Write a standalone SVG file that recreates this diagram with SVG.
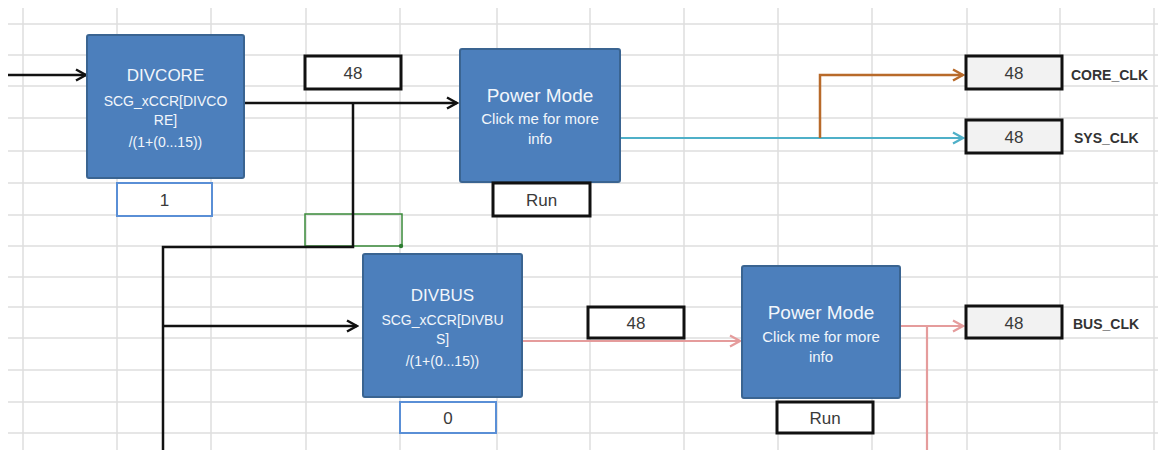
<svg xmlns="http://www.w3.org/2000/svg" width="1158" height="450" viewBox="0 0 1158 450">
<style>
.grid line{stroke:#DEDEDE;stroke-width:1.5}
.blk{fill:#4C7FBC;stroke:#3A6491;stroke-width:2}
.bt{fill:#F2F6FB;font-family:"Liberation Sans",Arial,sans-serif;text-anchor:middle;dominant-baseline:central}
.val{fill:#fff;stroke:#111;stroke-width:3}
.out{fill:#F2F2F2;stroke:#111;stroke-width:3}
.sel{fill:#fff;stroke:#5A8FD6;stroke-width:2}
.vt{fill:#3a3a3a;font-family:"Liberation Sans",Arial,sans-serif;font-size:17px;text-anchor:middle;dominant-baseline:central}
.lbl{fill:#333;font-family:"Liberation Sans",Arial,sans-serif;font-size:14px;font-weight:bold;dominant-baseline:central}
.c{fill:none}
</style>
<defs>
<marker id="mk" markerUnits="userSpaceOnUse" markerWidth="14" markerHeight="14" refX="12" refY="7" orient="auto"><path d="M2,1.5 L12,7 L2,12.5" fill="none" stroke="#111" stroke-width="2.5"/></marker>
<marker id="mc" markerUnits="userSpaceOnUse" markerWidth="14" markerHeight="14" refX="12" refY="7" orient="auto"><path d="M2,1.5 L12,7 L2,12.5" fill="none" stroke="#4FB0C8" stroke-width="2.2"/></marker>
<marker id="mo" markerUnits="userSpaceOnUse" markerWidth="14" markerHeight="14" refX="12" refY="7" orient="auto"><path d="M2,1.5 L12,7 L2,12.5" fill="none" stroke="#B86A2A" stroke-width="2.5"/></marker>
<marker id="mp" markerUnits="userSpaceOnUse" markerWidth="14" markerHeight="14" refX="12" refY="7" orient="auto"><path d="M2,1.5 L12,7 L2,12.5" fill="none" stroke="#E59C9C" stroke-width="2.2"/></marker>
</defs>
<rect width="1158" height="450" fill="#fff"/>
<g class="grid">
<line x1="23" y1="8" x2="23" y2="450"/><line x1="117" y1="8" x2="117" y2="450"/><line x1="211" y1="8" x2="211" y2="450"/><line x1="306" y1="8" x2="306" y2="450"/><line x1="400" y1="8" x2="400" y2="450"/><line x1="497" y1="8" x2="497" y2="450"/><line x1="590" y1="8" x2="590" y2="450"/><line x1="684" y1="8" x2="684" y2="450"/><line x1="778" y1="8" x2="778" y2="450"/><line x1="872" y1="8" x2="872" y2="450"/><line x1="967" y1="8" x2="967" y2="450"/><line x1="1060" y1="8" x2="1060" y2="450"/><line x1="1154" y1="8" x2="1154" y2="450"/>
<line x1="8" y1="24" x2="1158" y2="24"/><line x1="8" y1="55" x2="1158" y2="55"/><line x1="8" y1="86" x2="1158" y2="86"/><line x1="8" y1="118" x2="1158" y2="118"/><line x1="8" y1="151" x2="1158" y2="151"/><line x1="8" y1="183" x2="1158" y2="183"/><line x1="8" y1="215" x2="1158" y2="215"/><line x1="8" y1="246" x2="1158" y2="246"/><line x1="8" y1="277" x2="1158" y2="277"/><line x1="8" y1="307" x2="1158" y2="307"/><line x1="8" y1="338" x2="1158" y2="338"/><line x1="8" y1="370" x2="1158" y2="370"/><line x1="8" y1="402" x2="1158" y2="402"/><line x1="8" y1="433" x2="1158" y2="433"/>
</g>
<g id="green-cell"><rect x="305" y="214" width="97" height="32" fill="none" stroke="#3A8A3A" stroke-width="1.5"/><circle cx="401" cy="246" r="2.2" fill="#2E7D32"/></g>
<g id="connectors">
<path class="c" d="M8,75 H86" stroke="#111" stroke-width="2.5" marker-end="url(#mk)"/>
<path class="c" d="M244,103 H457" stroke="#111" stroke-width="2.5" marker-end="url(#mk)"/>
<path class="c" d="M353,103 V247 H163 V450" stroke="#111" stroke-width="2.5"/>
<path class="c" d="M163,326 H357" stroke="#111" stroke-width="2.5" marker-end="url(#mk)"/>
<path class="c" d="M620,138 H963" stroke="#4FB0C8" stroke-width="2.2" marker-end="url(#mc)"/>
<path class="c" d="M820,138 V75 H963" stroke="#B86A2A" stroke-width="2.5" marker-end="url(#mo)"/>
<path class="c" d="M522,341 H740" stroke="#E59C9C" stroke-width="2.2" marker-end="url(#mp)"/>
<path class="c" d="M900,326 H963" stroke="#E59C9C" stroke-width="2.2" marker-end="url(#mp)"/>
<path class="c" d="M927,326 V450" stroke="#E59C9C" stroke-width="2.2"/>
</g>
<g id="divcore"><rect class="blk" x="87" y="35" width="157" height="143" rx="2"/>
<text class="bt" x="165.5" y="75" font-size="17">DIVCORE</text>
<text class="bt" x="165.5" y="101" font-size="14">SCG_xCCR[DIVCO</text>
<text class="bt" x="165.5" y="120" font-size="14">RE]</text>
<text class="bt" x="165.5" y="142" font-size="14">/(1+(0...15))</text></g>
<g id="divcore-val"><rect class="sel" x="117" y="183" width="95" height="33"/><text class="vt" x="164.5" y="200">1</text></g>
<g id="core-48"><rect class="val" x="305" y="56" width="96" height="33"/><text class="vt" x="353" y="73">48</text></g>
<g id="pm1"><rect class="blk" x="460" y="49" width="160" height="133" rx="2"/>
<text class="bt" x="540" y="95" font-size="19">Power Mode</text>
<text class="bt" x="540" y="118" font-size="15">Click me for more</text>
<text class="bt" x="540" y="138" font-size="15">info</text></g>
<g id="run1"><rect class="val" x="493" y="183" width="97" height="33"/><text class="vt" x="541.5" y="200">Run</text></g>
<g id="core-clk"><rect class="out" x="966" y="56" width="96" height="33"/><text class="vt" x="1014" y="73">48</text><text class="lbl" x="1071" y="75">CORE_CLK</text></g>
<g id="sys-clk"><rect class="out" x="966" y="120" width="96" height="33"/><text class="vt" x="1014" y="137">48</text><text class="lbl" x="1074" y="138">SYS_CLK</text></g>
<g id="divbus"><rect class="blk" x="363" y="254" width="159" height="143" rx="2"/>
<text class="bt" x="442.5" y="295" font-size="17">DIVBUS</text>
<text class="bt" x="442.5" y="320" font-size="14">SCG_xCCR[DIVBU</text>
<text class="bt" x="442.5" y="339" font-size="14">S]</text>
<text class="bt" x="442.5" y="361" font-size="14">/(1+(0...15))</text></g>
<g id="divbus-val"><rect class="sel" x="400" y="402" width="96" height="31"/><text class="vt" x="448" y="418">0</text></g>
<g id="bus-48"><rect class="val" x="588" y="307" width="96" height="31"/><text class="vt" x="636" y="323">48</text></g>
<g id="pm2"><rect class="blk" x="742" y="266" width="158" height="132" rx="2"/>
<text class="bt" x="821" y="312" font-size="19">Power Mode</text>
<text class="bt" x="821" y="336" font-size="15">Click me for more</text>
<text class="bt" x="821" y="356" font-size="15">info</text></g>
<g id="run2"><rect class="val" x="777" y="402" width="96" height="31"/><text class="vt" x="825" y="418">Run</text></g>
<g id="bus-clk"><rect class="out" x="966" y="306" width="96" height="32"/><text class="vt" x="1014" y="323">48</text><text class="lbl" x="1073" y="324">BUS_CLK</text></g>
</svg>
